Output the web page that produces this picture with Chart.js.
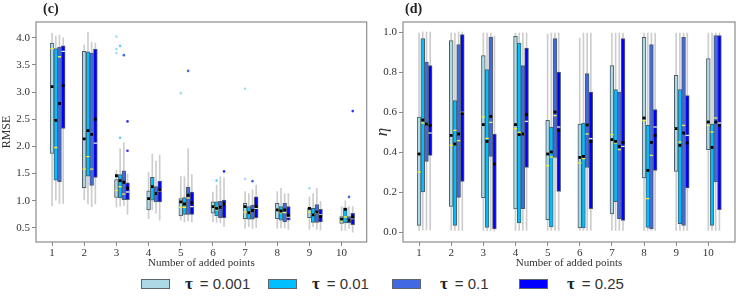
<!DOCTYPE html>
<html>
<head>
<meta charset="utf-8">
<script src="https://cdn.jsdelivr.net/npm/chart.js@4.4.1/dist/chart.umd.min.js"></script>
<style>
  body { margin: 0; background: #fff; }
  #wrap { position: relative; width: 747px; height: 300px; overflow: hidden; font-family: 'Liberation Serif', serif; }
  .panel { position: absolute; top: 0; height: 274px; }
  .tag { position: absolute; top: 1px; font: bold 14px 'Liberation Serif', serif; color: #222; }
  .leg-box { position: absolute; top: 279px; width: 29px; height: 10px; border: 1px solid #5a6570; box-sizing: border-box; }
  .leg-txt { position: absolute; top: 274px; font: 15px 'Liberation Sans', sans-serif; color: #333; white-space: nowrap; }
  .leg-txt b { font: bold 17px 'Liberation Serif', serif; margin-right: 7px; color: #222; }
</style>
</head>
<body>
<div id="wrap">
  <div class="panel" style="left:0;width:372px;"><canvas id="rmseChart"></canvas></div>
  <div class="panel" style="left:372px;width:375px;"><canvas id="etaChart"></canvas></div>
  <div class="tag" style="left:43px;">(c)</div>
  <div class="tag" style="left:405px;">(d)</div>
  <div id="legend"></div>
</div>
<script>
// Categories and legend labels
const groups = [1, 2, 3, 4, 5, 6, 7, 8, 9, 10];
const tauLabels = ['0.001', '0.01', '0.1', '0.25'];
const rmseTicks = [0.5, 1.0, 1.5, 2.0, 2.5, 3.0, 3.5, 4.0];
const etaTicks = [0.0, 0.2, 0.4, 0.6, 0.8, 1.0];

// RMSE panel (c) - one row per tau
const rmseQ3 = [
    [3.90, 3.75, 1.39, 1.18, 1.04, 0.98, 0.95, 0.95, 0.87, 0.71],
    [3.80, 3.74, 1.48, 1.43, 1.06, 0.98, 0.89, 0.89, 0.86, 0.87],
    [3.83, 3.72, 1.55, 1.26, 1.25, 0.99, 0.92, 0.95, 0.93, 0.71],
    [3.85, 3.79, 1.33, 1.36, 1.16, 1.01, 1.07, 0.89, 0.84, 0.77]
];
const rmseQ1 = [
    [1.87, 1.24, 1.06, 0.83, 0.72, 0.77, 0.67, 0.67, 0.69, 0.58],
    [1.38, 1.45, 1.05, 1.01, 0.75, 0.72, 0.66, 0.64, 0.60, 0.59],
    [1.35, 1.28, 1.02, 0.98, 0.75, 0.69, 0.66, 0.61, 0.60, 0.59],
    [2.33, 1.43, 1.02, 0.98, 0.75, 0.69, 0.69, 0.64, 0.61, 0.56]
];
const rmseMedian = [
    [3.80, 1.58, 1.19, 1.03, 0.88, 0.89, 0.79, 0.84, 0.79, 0.63],
    [1.98, 1.81, 1.26, 1.26, 0.88, 0.83, 0.77, 0.78, 0.74, 0.70],
    [3.65, 1.58, 1.12, 1.13, 1.05, 0.88, 0.82, 0.78, 0.77, 0.64],
    [3.75, 2.06, 1.16, 1.18, 0.89, 0.94, 0.86, 0.70, 0.74, 0.67]
];
const rmseMean = [
    [3.10, 2.14, 1.46, 1.04, 0.98, 0.89, 0.89, 0.83, 0.86, 0.66],
    [2.48, 2.29, 1.37, 1.26, 0.94, 0.86, 0.78, 0.81, 0.74, 0.84],
    [2.79, 2.22, 1.34, 1.13, 1.10, 0.88, 0.82, 0.83, 0.79, 0.64],
    [3.12, 2.50, 1.23, 1.20, 0.96, 0.94, 0.89, 0.73, 0.71, 0.70]
];
const rmseHigh = [
    [4.08, 3.87, 1.56, 1.52, 1.45, 1.16, 1.17, 1.17, 1.07, 0.89],
    [4.03, 4.10, 1.96, 1.86, 1.44, 1.29, 1.13, 1.23, 1.13, 1.00],
    [4.05, 3.92, 2.07, 1.73, 1.96, 1.44, 1.20, 1.13, 1.23, 0.89],
    [4.00, 3.90, 1.49, 1.84, 1.48, 1.42, 1.29, 1.13, 0.99, 0.89]
];
const rmseLow = [
    [0.91, 1.02, 0.88, 0.67, 0.64, 0.61, 0.49, 0.49, 0.47, 0.45],
    [1.01, 0.94, 0.90, 0.83, 0.61, 0.60, 0.52, 0.50, 0.52, 0.46],
    [0.95, 0.89, 0.91, 0.77, 0.63, 0.59, 0.49, 0.50, 0.47, 0.49],
    [0.95, 0.94, 0.75, 0.64, 0.61, 0.52, 0.51, 0.47, 0.46, 0.42]
];
// [group, value]
const rmseOutliers = [
    [[3, 4.02], [3, 3.79], [3, 3.72], [5, 2.98], [7, 3.06], [7, 1.40], [9, 1.23]],
    [[3, 3.85], [3, 2.16], [6, 1.37]],
    [[3, 3.68], [5, 3.39], [7, 1.36], [10, 1.07]],
    [[3, 2.46], [3, 1.92], [6, 1.54], [10, 2.65]]
];

// eta panel (d)
const etaQ3 = [
    [0.575, 0.957, 0.882, 0.978, 0.558, 0.540, 0.832, 0.973, 0.783, 0.867],
    [0.967, 0.657, 0.812, 0.945, 0.525, 0.545, 0.712, 0.533, 0.712, 0.540],
    [0.850, 0.937, 0.975, 0.832, 0.967, 0.792, 0.700, 0.937, 0.973, 0.982],
    [0.832, 0.987, 0.490, 0.920, 0.800, 0.700, 0.967, 0.612, 0.682, 0.982]
];
const etaQ1 = [
    [0.033, 0.128, 0.172, 0.115, 0.062, 0.020, 0.090, 0.270, 0.303, 0.412],
    [0.200, 0.033, 0.023, 0.045, 0.025, 0.020, 0.152, 0.023, 0.042, 0.033],
    [0.353, 0.173, 0.378, 0.117, 0.373, 0.323, 0.067, 0.017, 0.033, 0.250],
    [0.383, 0.253, 0.015, 0.323, 0.203, 0.117, 0.058, 0.308, 0.220, 0.112]
];
const etaMedian = [
    [0.300, 0.433, 0.575, 0.517, 0.332, 0.345, 0.487, 0.557, 0.517, 0.533],
    [0.545, 0.508, 0.468, 0.498, 0.375, 0.367, 0.445, 0.167, 0.450, 0.500],
    [0.540, 0.457, 0.548, 0.490, 0.582, 0.490, 0.412, 0.383, 0.533, 0.570],
    [0.495, 0.598, 0.340, 0.553, 0.525, 0.467, 0.428, 0.525, 0.483, 0.545]
];
const etaMean = [
    [0.390, 0.483, 0.537, 0.537, 0.390, 0.373, 0.462, 0.570, 0.517, 0.550],
    [0.560, 0.440, 0.453, 0.487, 0.400, 0.378, 0.453, 0.308, 0.433, 0.423],
    [0.540, 0.490, 0.578, 0.490, 0.600, 0.535, 0.428, 0.448, 0.495, 0.550],
    [0.533, 0.592, 0.340, 0.587, 0.508, 0.453, 0.448, 0.483, 0.445, 0.532]
];
const etaHigh = [
    [0.995, 0.995, 0.995, 0.995, 0.990, 0.970, 0.995, 0.995, 0.995, 0.995],
    [1.000, 0.995, 0.995, 0.995, 0.995, 0.995, 0.995, 0.995, 0.995, 0.995],
    [1.000, 1.000, 0.995, 0.995, 0.995, 0.995, 0.995, 0.995, 0.995, 0.995],
    [1.000, 1.000, 0.980, 0.995, 0.995, 0.995, 0.995, 0.995, 0.995, 0.995]
];
const etaLow = [
    [0.008, 0.008, 0.008, 0.008, 0.008, 0.008, 0.008, 0.008, 0.008, 0.008],
    [0.010, 0.008, 0.008, 0.008, 0.008, 0.008, 0.008, 0.008, 0.008, 0.008],
    [0.010, 0.008, 0.008, 0.008, 0.008, 0.008, 0.008, 0.008, 0.008, 0.008],
    [0.010, 0.008, 0.005, 0.008, 0.008, 0.008, 0.008, 0.008, 0.008, 0.008]
];
const etaOutliers = [[], [], [], []];

// Styling
const boxColors = ['#add8e6', '#00bfff', '#4169e1', '#0000ff'];
const outlierColors = ['#9fdcef', '#5ccfff', '#4169e1', '#2a2aff'];
const medianColors = ['#f2ee3c', '#f2ee3c', '#efe860', '#ecebc8'];
const boxEdge = '#4f5b66';
const whiskerColor = '#cdcdcd';
const boxStep = 0.115;
const serif = "'Liberation Serif', serif";

// Draw the grey frame around the plot area
const framePlugin = {
    id: 'frame',
    afterDraw(chart) {
        const { ctx, chartArea: a } = chart;
        ctx.save();
        ctx.strokeStyle = '#8c8c8c';
        ctx.lineWidth = 1.2;
        ctx.strokeRect(a.left, a.top, a.right - a.left, a.bottom - a.top);
        ctx.restore();
    }
};

function buildDatasets(q1, q3, med, mean, lo, hi, outliers) {
    const sets = [];
    for (let s = 0; s < tauLabels.length; s++) {
        const xOf = g => g + s * boxStep;
        sets.push({
            type: 'bar', order: 5, grouped: false,
            data: groups.map((g, i) => ({ x: xOf(g), y: [lo[s][i], hi[s][i]] })),
            backgroundColor: whiskerColor, barThickness: 1, borderWidth: 0
        });
        sets.push({
            type: 'bar', order: 4, grouped: false,
            data: groups.map((g, i) => ({ x: xOf(g), y: [q1[s][i], q3[s][i]] })),
            backgroundColor: boxColors[s], borderColor: boxEdge, borderWidth: 1,
            borderSkipped: false, barThickness: 3.8
        });
        sets.push({
            type: 'scatter', order: 3,
            data: groups.map((g, i) => ({ x: xOf(g), y: med[s][i] })),
            pointStyle: 'line', radius: 1.7, borderColor: medianColors[s], borderWidth: 1.3
        });
        sets.push({
            type: 'scatter', order: 2,
            data: groups.map((g, i) => ({ x: xOf(g), y: mean[s][i] })),
            pointStyle: 'rect', radius: 2, backgroundColor: '#000', borderWidth: 0
        });
        sets.push({
            type: 'scatter', order: 1,
            data: outliers[s].map(([g, v]) => ({ x: xOf(g), y: v })),
            pointStyle: 'circle', radius: 1.3, backgroundColor: outlierColors[s], borderWidth: 0
        });
    }
    return sets;
}

function makePanel(id, cfg) {
    new Chart(document.getElementById(id), {
        type: 'bar',
        data: { datasets: buildDatasets(cfg.q1, cfg.q3, cfg.med, cfg.mean, cfg.lo, cfg.hi, cfg.outliers) },
        options: {
            responsive: true,
            maintainAspectRatio: false,
            animation: false,
            layout: { padding: { top: 22, right: cfg.padRight, left: 0, bottom: 0 } },
            plugins: { legend: { display: false }, tooltip: { enabled: false } },
            scales: {
                x: {
                    type: 'linear', offset: false,
                    min: 0.5, max: cfg.xMax,
                    afterBuildTicks: scale => { scale.ticks = groups.map(v => ({ value: v })); },
                    afterFit: scale => { scale.height = 32; },
                    grid: { drawOnChartArea: false, drawTicks: true, tickLength: 4, color: '#888', offset: false },
                    border: { display: false },
                    ticks: { color: '#333', font: { family: serif, size: 11 }, padding: 1, maxRotation: 0, autoSkip: false },
                    title: { display: true, text: 'Number of added points', color: '#333', font: { family: serif, size: 11 }, padding: { top: 0, bottom: 4 } }
                },
                y: {
                    min: cfg.yMin, max: cfg.yMax,
                    afterBuildTicks: scale => { scale.ticks = cfg.yTicks.map(v => ({ value: v })); },
                    afterFit: scale => { scale.width = cfg.yWidth; },
                    grid: { drawOnChartArea: false, drawTicks: true, tickLength: 4, color: '#888' },
                    border: { display: false },
                    ticks: { color: '#333', font: { family: serif, size: 11 }, padding: 2, callback: v => v.toFixed(1) },
                    title: { display: true, text: cfg.yTitle, color: '#333', font: cfg.yTitleFont, padding: 0 }
                }
            }
        },
        plugins: [framePlugin]
    });
}

makePanel('rmseChart', {
    q1: rmseQ1, q3: rmseQ3, med: rmseMedian, mean: rmseMean, lo: rmseLow, hi: rmseHigh, outliers: rmseOutliers,
    yMin: 0.24, yMax: 4.29, yTicks: rmseTicks, xMax: 10.78, yWidth: 36, padRight: 5,
    yTitle: 'RMSE', yTitleFont: { family: serif, size: 12 }
});
makePanel('etaChart', {
    q1: etaQ1, q3: etaQ3, med: etaMedian, mean: etaMean, lo: etaLow, hi: etaHigh, outliers: etaOutliers,
    yMin: -0.05, yMax: 1.05, yTicks: etaTicks, xMax: 10.83, yWidth: 31, padRight: 12,
    yTitle: 'η', yTitleFont: { family: serif, size: 17, style: 'italic' }
});

// Legend row below both panels
const legendBoxX = [141, 268, 392, 519];
const legendTextX = [185, 312, 440, 567];
const legend = document.getElementById('legend');
tauLabels.forEach((t, i) => {
    const box = document.createElement('div');
    box.className = 'leg-box';
    box.style.left = legendBoxX[i] + 'px';
    box.style.background = boxColors[i];
    legend.appendChild(box);
    const txt = document.createElement('div');
    txt.className = 'leg-txt';
    txt.style.left = legendTextX[i] + 'px';
    txt.innerHTML = '<b>τ</b>= ' + t;
    legend.appendChild(txt);
});
</script>
</body>
</html>
